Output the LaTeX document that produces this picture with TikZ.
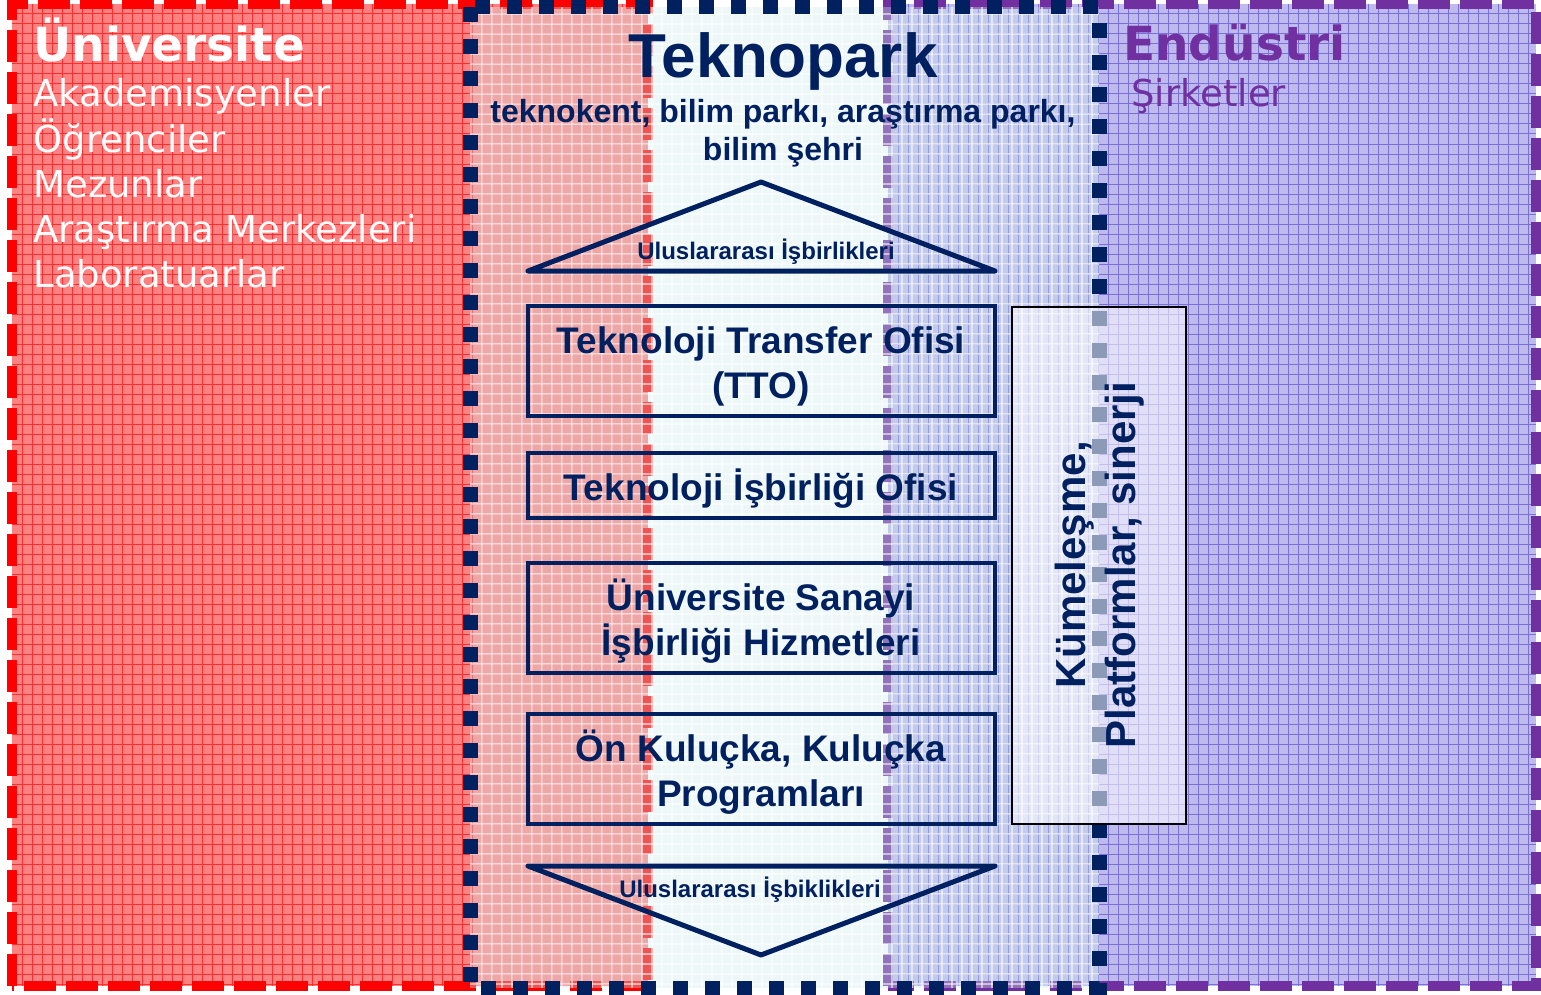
\documentclass[tikz,border=0pt]{standalone}
\usepackage{fontspec}
\setmainfont{Liberation Sans}
\newfontfamily\dvfont{DejaVu Sans}
\definecolor{navy}{RGB}{0,32,96}
\definecolor{purp}{RGB}{112,48,160}
\definecolor{redfill}{RGB}{255,130,130}
\definecolor{redgrid}{RGB}{255,45,45}
\definecolor{purfill}{RGB}{190,186,236}
\definecolor{purgrid}{RGB}{122,112,216}
\definecolor{tekfill}{RGB}{206,235,235}
\tikzset{
  unitxt/.style={anchor=base west, text=white, font=\dvfont\fontsize{18.5}{22}\selectfont, inner sep=0pt},
  unihead/.style={anchor=base west, font=\dvfont\bfseries\fontsize{23.5}{27}\selectfont, inner sep=0pt},
  tekbox/.style={draw=navy, line width=2.25pt, minimum width=233.5pt, inner sep=0pt},
  boxtxt/.style={anchor=base, text=navy, font=\bfseries\fontsize{18.5}{22.5}\selectfont, inner sep=0pt},
  tri/.style={draw=navy, line width=2.5pt, line join=round},
  trilabel/.style={anchor=base, text=navy, font=\bfseries\fontsize{12}{14}\selectfont, inner sep=0pt}
}
\begin{document}
\begin{tikzpicture}[x=0.5pt,y=-0.5pt]
\useasboundingbox (0,0) rectangle (1541,995);
\fill[white] (0,0) rectangle (1541,995);
% Universite region
\fill[redfill] (12,4) rectangle (648,986);
\foreach \gx in {22,32,...,642} \draw[redgrid, line width=0.5pt] (\gx,4) -- (\gx,986);
\foreach \gy in {14,24,...,984} \draw[redgrid, line width=0.5pt] (12,\gy) -- (648,\gy);
\draw[red, line width=5pt, dash pattern=on 16pt off 5pt] (12,986) -- (12,4) -- (648,4) -- (648,986) -- cycle;
% Endustri region
\fill[purfill] (888,4) rectangle (1536,986);
\foreach \gx in {898,908,...,1532} \draw[purgrid, line width=0.5pt] (\gx,4) -- (\gx,986);
\foreach \gy in {14,24,...,984} \draw[purgrid, line width=0.5pt] (888,\gy) -- (1536,\gy);
\draw[purp, line width=5pt, dash pattern=on 16pt off 5pt] (888,986) -- (888,4) -- (1536,4) -- (1536,986) -- cycle;
% Teknopark overlay
\fill[tekfill, fill opacity=0.36] (470,7) rectangle (1099,988);
\foreach \gx in {482,492,...,1092} \draw[white, opacity=0.55, line width=0.6pt] (\gx,7) -- (\gx,988);
\foreach \gy in {14,24,...,984} \draw[white, opacity=0.55, line width=0.6pt] (470,\gy) -- (1099,\gy);
\draw[navy, line width=7.5pt, dash pattern=on 7.5pt off 8.5pt] (470,7) rectangle (1099,988);

% Universite texts
\node[unihead, text=white] (uni) at (33,62) {Üniversite};
\node[unitxt] (u1) at (33,107) {Akademisyenler};
\node[unitxt] (u2) at (33,152) {Öğrenciler};
\node[unitxt] (u3) at (33,197) {Mezunlar};
\node[unitxt] (u4) at (33,242) {Araştırma Merkezleri};
\node[unitxt] (u5) at (33,287) {Laboratuarlar};

% Endustri texts
\node[unihead, text=purp] (end) at (1123,61) {Endüstri};
\node[unitxt, text=purp] (sirk) at (1131,107) {Şirketler};

% Teknopark title
\node[anchor=base, text=navy, font=\bfseries\fontsize{31}{36}\selectfont, inner sep=0pt] (tek) at (783,78) {Teknopark};
\node[anchor=base, text=navy, font=\bfseries\fontsize{16}{19}\selectfont, inner sep=0pt] (sub1) at (783,122) {teknokent, bilim parkı, araştırma parkı,};
\node[anchor=base, text=navy, font=\bfseries\fontsize{16}{19}\selectfont, inner sep=0pt] (sub2) at (783,160) {bilim şehri};

% Top triangle
\coordinate (t1) at (528,271);
\coordinate (t2) at (761,182);
\coordinate (t3) at (995,271);
\draw[tri] (t1) -- (t2) -- (t3) -- cycle;
\node[trilabel] (ulus1) at (766,259) {Uluslararası İşbirlikleri};

% Boxes
\node[tekbox, minimum height=55pt] (tto) at (761.5,361) {};
\node[boxtxt] (tto1) at (761,353) {Teknoloji Transfer Ofisi};
\node[boxtxt] (tto2) at (761,398) {(TTO)};
\node[tekbox, minimum height=32.5pt] (tio) at (761.5,485.5) {};
\node[boxtxt] (tio1) at (761,500) {Teknoloji İşbirliği Ofisi};
\node[tekbox, minimum height=55pt] (usi) at (761.5,618) {};
\node[boxtxt] (usi1) at (761,610) {Üniversite Sanayi};
\node[boxtxt] (usi2) at (761,655) {İşbirliği Hizmetleri};
\node[tekbox, minimum height=55pt] (onk) at (761.5,769) {};
\node[boxtxt] (onk1) at (761,761) {Ön Kuluçka, Kuluçka};
\node[boxtxt] (onk2) at (761,806) {Programları};

% Bottom triangle
\coordinate (b1) at (528,866);
\coordinate (b2) at (995,866);
\coordinate (b3) at (761,955);
\draw[tri] (b1) -- (b2) -- (b3) -- cycle;
\node[trilabel] (ulus2) at (750,897) {Uluslararası İşbiklikleri};

% Kumelesme box
\node[draw=black, line width=1pt, fill=white, fill opacity=0.55, text opacity=1, minimum width=87pt, minimum height=258.5pt, inner sep=0pt] (kum) at (1099,565.5) {};
\node[rotate=90, text=navy, font=\bfseries\fontsize{21}{25}\selectfont, align=center, inner sep=0pt] (kumtxt) at (1100,565) {Kümeleşme,\\Platformlar, sinerji};
\end{tikzpicture}
\end{document}
